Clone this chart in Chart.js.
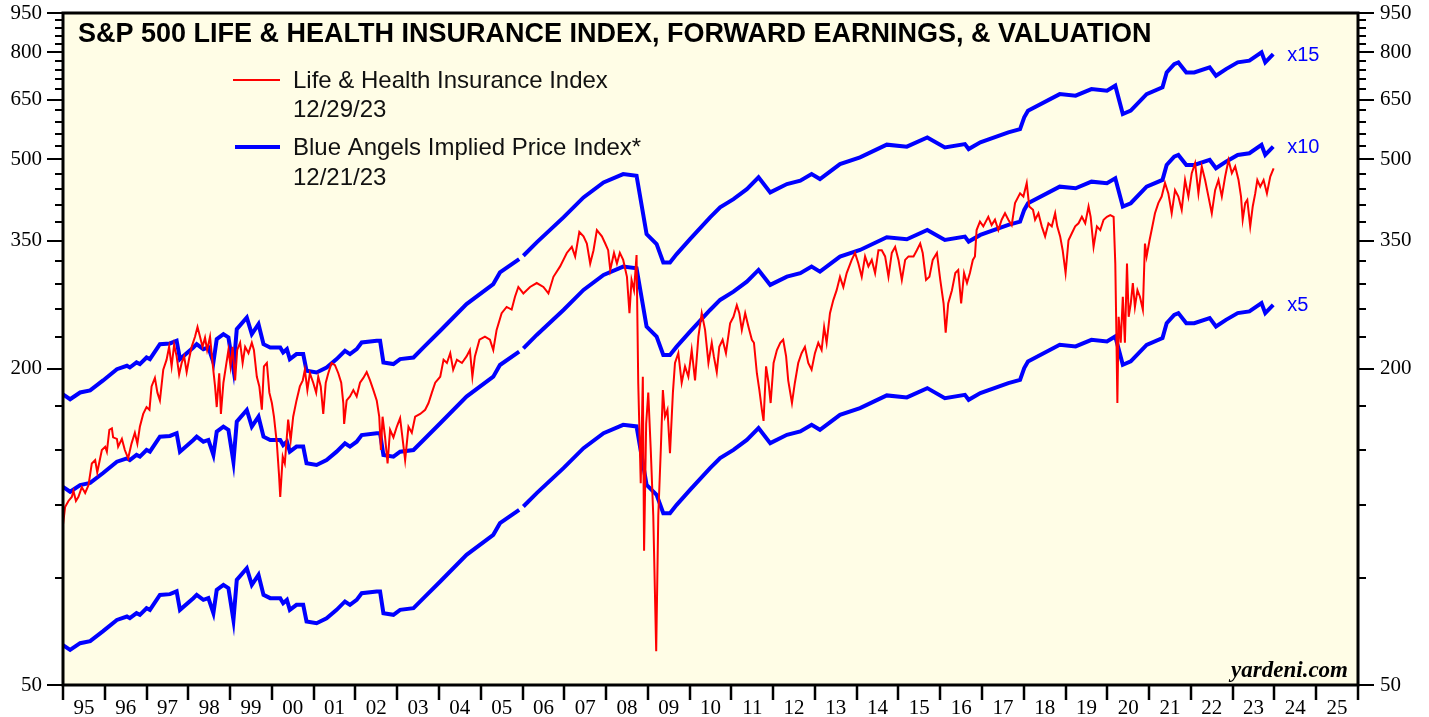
<!DOCTYPE html>
<html>
<head>
<meta charset="utf-8">
<title>S&amp;P 500 Life &amp; Health Insurance Index</title>
<script src="https://cdn.jsdelivr.net/npm/chart.js@4.4.1/dist/chart.umd.min.js"></script>
<style>
  html, body { margin: 0; padding: 0; background: #ffffff; }
  #wrap { width: 1429px; height: 717px; }
</style>
</head>
<body>
<div id="wrap"><canvas id="lifeHealthChart" width="1429" height="717"></canvas></div>
<script>
// Life & Health Insurance index (decimal years)
const lhDates = [
  1995.00,1995.05,1995.13,1995.21,1995.25,1995.31,1995.37,1995.45,1995.53,1995.61,
  1995.69,1995.77,1995.82,1995.93,1996.01,1996.05,1996.11,1996.17,1996.20,1996.29,
  1996.32,1996.41,1996.48,1996.56,1996.64,1996.72,1996.78,1996.84,1996.92,1997.00,
  1997.07,1997.12,1997.20,1997.26,1997.32,1997.40,1997.48,1997.54,1997.60,1997.66,
  1997.72,1997.78,1997.84,1997.90,1997.96,1998.02,1998.08,1998.16,1998.22,1998.28,
  1998.34,1998.40,1998.45,1998.52,1998.58,1998.64,1998.68,1998.74,1998.78,1998.84,
  1998.90,1998.96,1999.01,1999.06,1999.12,1999.17,1999.24,1999.30,1999.36,1999.44,
  1999.52,1999.57,1999.64,1999.70,1999.76,1999.81,1999.88,1999.94,2000.00,2000.05,
  2000.12,2000.17,2000.20,2000.26,2000.31,2000.39,2000.45,2000.51,2000.59,2000.67,
  2000.74,2000.79,2000.85,2000.91,2000.99,2001.06,2001.11,2001.17,2001.23,2001.29,
  2001.35,2001.43,2001.51,2001.59,2001.66,2001.71,2001.73,2001.79,2001.87,2001.95,
  2002.03,2002.11,2002.19,2002.27,2002.35,2002.43,2002.51,2002.57,2002.61,2002.65,
  2002.71,2002.77,2002.83,2002.91,2002.99,2003.07,2003.19,2003.27,2003.35,2003.43,
  2003.55,2003.67,2003.75,2003.83,2003.91,2004.03,2004.11,2004.19,2004.27,2004.34,
  2004.43,2004.55,2004.66,2004.74,2004.80,2004.86,2004.97,2005.10,2005.22,2005.30,
  2005.38,2005.50,2005.62,2005.74,2005.82,2005.90,2006.02,2006.18,2006.34,2006.50,
  2006.62,2006.74,2006.90,2007.06,2007.18,2007.26,2007.36,2007.46,2007.54,2007.62,
  2007.70,2007.78,2007.90,2007.98,2008.05,2008.10,2008.19,2008.26,2008.33,2008.41,
  2008.50,2008.56,2008.61,2008.67,2008.73,2008.77,2008.83,2008.88,2008.91,2008.96,
  2009.01,2009.07,2009.13,2009.20,2009.25,2009.31,2009.36,2009.41,2009.47,2009.53,
  2009.60,2009.65,2009.73,2009.81,2009.89,2009.97,2010.05,2010.13,2010.21,2010.29,
  2010.37,2010.45,2010.53,2010.58,2010.65,2010.71,2010.79,2010.87,2010.97,2011.05,
  2011.13,2011.19,2011.25,2011.33,2011.41,2011.49,2011.54,2011.61,2011.67,2011.73,
  2011.77,2011.83,2011.89,2011.94,2012.01,2012.09,2012.17,2012.24,2012.31,2012.36,
  2012.45,2012.52,2012.60,2012.68,2012.76,2012.84,2012.92,2013.00,2013.08,2013.16,
  2013.22,2013.28,2013.36,2013.44,2013.52,2013.60,2013.68,2013.76,2013.88,2013.96,
  2014.04,2014.12,2014.20,2014.28,2014.36,2014.44,2014.52,2014.60,2014.68,2014.76,
  2014.84,2014.92,2015.00,2015.08,2015.16,2015.24,2015.36,2015.44,2015.52,2015.58,
  2015.66,2015.74,2015.82,2015.92,2016.00,2016.08,2016.13,2016.19,2016.28,2016.36,
  2016.43,2016.50,2016.57,2016.64,2016.71,2016.78,2016.83,2016.87,2016.95,2017.03,
  2017.15,2017.23,2017.31,2017.39,2017.47,2017.55,2017.63,2017.71,2017.79,2017.91,
  2017.99,2018.07,2018.13,2018.22,2018.27,2018.35,2018.43,2018.51,2018.59,2018.67,
  2018.75,2018.80,2018.87,2018.93,2019.00,2019.07,2019.15,2019.23,2019.31,2019.39,
  2019.47,2019.55,2019.60,2019.67,2019.75,2019.83,2019.91,2019.99,2020.07,2020.15,
  2020.19,2020.21,2020.24,2020.27,2020.32,2020.37,2020.42,2020.47,2020.51,2020.56,
  2020.61,2020.66,2020.72,2020.78,2020.85,2020.90,2020.94,2021.01,2021.06,2021.14,
  2021.22,2021.30,2021.38,2021.46,2021.54,2021.62,2021.70,2021.78,2021.86,2021.94,
  2022.02,2022.10,2022.18,2022.26,2022.34,2022.42,2022.50,2022.58,2022.66,2022.74,
  2022.82,2022.90,2022.98,2023.06,2023.14,2023.20,2023.24,2023.30,2023.35,2023.42,
  2023.48,2023.54,2023.59,2023.66,2023.74,2023.82,2023.90,2023.98
];
const lhIndex = [
  101,109,112,114,117,112,114,119,116,120,
  132,134,127,140,142,139,153,154,148,147,
  142,147,140,135,144,151,144,155,164,169,
  167,185,192,180,174,199,208,220,202,222,
  211,195,205,211,197,209,220,230,240,230,
  220,229,217,230,205,185,169,196,164,188,
  202,217,202,220,190,217,224,205,220,214,
  224,217,193,185,167,202,205,180,172,162,
  144,126,114,136,132,160,146,162,174,185,
  190,199,182,196,188,180,193,185,164,188,
  196,205,203,196,188,172,157,174,177,182,
  177,188,192,197,190,182,174,162,140,162,
  148,132,153,148,155,161,134,155,151,162,
  164,167,172,180,188,193,208,205,214,199,
  208,205,211,217,193,211,227,230,227,217,
  237,255,262,259,274,286,278,286,291,286,
  278,299,313,332,341,327,364,357,346,317,
  336,367,357,346,336,308,332,317,332,322,
  299,255,295,282,329,188,121,193,90,157,
  180,140,105,58,105,140,182,162,167,138,
  180,205,214,188,202,193,217,190,230,255,
  237,205,224,211,197,220,227,214,244,251,
  264,255,237,255,240,227,224,196,182,167,
  159,202,188,172,205,217,224,227,211,190,
  172,188,205,214,220,205,199,214,224,217,
  240,224,255,270,282,299,286,304,322,332,
  317,299,327,313,322,304,336,336,327,299,
  332,341,322,295,322,327,327,336,346,332,
  295,299,322,332,295,266,234,266,282,304,
  308,266,304,291,304,322,327,367,381,373,
  389,375,384,367,384,395,384,375,413,431,
  425,451,407,401,384,395,373,357,378,373,
  395,373,357,336,304,351,362,373,378,389,
  378,407,389,341,373,367,384,389,392,389,
  317,251,172,251,224,274,224,317,251,266,
  291,262,282,274,259,346,327,351,367,395,
  413,425,451,431,395,437,425,401,457,425,
  471,492,431,485,457,425,395,437,457,425,
  464,499,471,485,457,425,384,413,419,373,
  407,431,457,444,457,431,464,481
];

// forward earnings behind the Blue Angels lines (null = gap in the series)
const epsDates = [
  1995.00,1995.17,1995.41,1995.65,1995.96,1996.29,1996.53,1996.60,1996.76,1996.84,
  1997.00,1997.08,1997.32,1997.56,1997.72,1997.80,1998.12,1998.20,1998.36,1998.48,
  1998.60,1998.68,1998.84,1998.96,1999.08,1999.16,1999.40,1999.52,1999.68,1999.80,
  1999.96,2000.20,2000.27,2000.36,2000.43,2000.59,2000.75,2000.83,2001.07,2001.31,
  2001.55,2001.75,2001.87,2002.03,2002.15,2002.51,2002.59,2002.67,2002.91,2003.07,
  2003.39,2003.63,2004.03,2004.66,2005.30,2005.46,2005.92,2005.97,2006.02,2006.34,
  2006.98,2007.46,2007.94,2008.41,2008.73,2008.97,2009.21,2009.37,2009.53,2009.69,
  2010.01,2010.49,2010.73,2011.05,2011.37,2011.65,2011.93,2012.33,2012.65,2012.92,
  2013.12,2013.60,2014.08,2014.72,2015.20,2015.69,2016.11,2016.59,2016.68,2016.96,
  2017.63,2017.91,2018.01,2018.10,2018.86,2019.24,2019.62,2019.99,2020.19,2020.37,
  2020.56,2020.94,2021.32,2021.42,2021.60,2021.70,2021.89,2022.08,2022.45,2022.60,
  2022.84,2023.12,2023.40,2023.69,2023.78,2023.97
];
const fwdEps = [
  11.91,11.66,12.01,12.12,12.66,13.30,13.50,13.40,13.70,13.60,
  14.00,13.90,14.84,14.89,15.07,13.90,14.63,14.84,14.52,14.63,
  13.70,15.17,15.51,15.29,13.30,15.85,16.68,15.51,16.20,14.84,
  14.63,14.63,14.31,14.52,13.90,14.21,14.21,13.21,13.11,13.40,
  13.90,14.42,14.21,14.52,14.95,15.07,15.07,13.70,13.60,13.90,
  14.00,14.63,15.74,17.69,19.31,20.32,21.55,null,21.86,23.18,
  25.86,28.23,30.15,31.27,31.05,24.04,23.01,21.23,21.23,22.02,
  23.52,25.86,27.02,28.02,29.27,30.82,28.86,29.93,30.38,31.27,
  30.59,32.67,33.64,35.57,35.26,36.72,35.14,35.66,34.89,35.93,
  37.54,38.08,40.09,41.28,44.39,44.08,45.37,45.06,46.06,40.67,
  41.28,44.39,45.72,48.82,50.63,51.01,48.82,48.82,49.90,48.12,
  49.53,51.01,51.39,53.29,51.01,52.90
];
const multiples = [15, 10, 5];

// axes
const firstYear = 1995;
const lastYear = 2026;
const yMin = 50;
const yMax = 950;
const yLabels = [50, 200, 350, 500, 650, 800, 950];
const minorStep = 30;

const serif = '"Liberation Serif", "Times New Roman", serif';
const sans = '"Liberation Sans", Arial, sans-serif';

const yearTicks = [];
for (let yr = firstYear; yr < lastYear; yr++) yearTicks.push(yr + 0.5);

const lhPoints = lhDates.map((d, i) => ({ x: d, y: lhIndex[i] }));
const blueSets = multiples.map(m => ({
  label: 'x' + m,
  data: epsDates.map((d, i) => ({ x: d, y: fwdEps[i] === null ? null : fwdEps[i] * m })),
  borderColor: '#0000ff',
  borderWidth: 4,
  pointRadius: 0,
  spanGaps: false,
  tension: 0
}));

const paperPlugin = {
  id: 'paper',
  beforeDraw(chart) {
    const { ctx, chartArea: area } = chart;
    ctx.save();
    ctx.fillStyle = '#ffffff';
    ctx.fillRect(0, 0, chart.width, chart.height);
    ctx.fillStyle = '#fffde6';
    ctx.fillRect(area.left, area.top, area.right - area.left, area.bottom - area.top);
    ctx.restore();
  },
  afterDraw(chart) {
    const { ctx, chartArea: area, scales } = chart;
    ctx.save();
    ctx.strokeStyle = '#000000';

    // value ticks, both sides
    ctx.lineWidth = 2;
    for (let v = yMin; v <= yMax; v += minorStep) {
      const py = Math.round(scales.y.getPixelForValue(v));
      const len = yLabels.includes(v) ? 16 : 8;
      ctx.beginPath();
      ctx.moveTo(area.left - len, py);
      ctx.lineTo(area.left, py);
      ctx.moveTo(area.right, py);
      ctx.lineTo(area.right + len, py);
      ctx.stroke();
    }

    // year ticks
    ctx.lineWidth = 2.5;
    for (let yr = firstYear; yr <= lastYear; yr++) {
      const px = Math.round(scales.x.getPixelForValue(yr));
      ctx.beginPath();
      ctx.moveTo(px, area.bottom);
      ctx.lineTo(px, area.bottom + 15);
      ctx.stroke();
    }

    // frame
    ctx.lineWidth = 3;
    ctx.strokeRect(area.left, area.top, area.right - area.left, area.bottom - area.top);

    // title
    ctx.fillStyle = '#000000';
    ctx.textAlign = 'left';
    ctx.textBaseline = 'alphabetic';
    ctx.font = 'bold 27px ' + sans;
    ctx.fillText('S&P 500 LIFE & HEALTH INSURANCE INDEX, FORWARD EARNINGS, & VALUATION', 78, 42);

    // legend
    ctx.lineCap = 'butt';
    ctx.strokeStyle = '#ff0000';
    ctx.lineWidth = 2;
    ctx.beginPath();
    ctx.moveTo(233, 80);
    ctx.lineTo(280, 80);
    ctx.stroke();
    ctx.strokeStyle = '#0000ff';
    ctx.lineWidth = 4;
    ctx.beginPath();
    ctx.moveTo(235, 147);
    ctx.lineTo(280, 147);
    ctx.stroke();

    ctx.fillStyle = '#111111';
    ctx.font = '24px ' + sans;
    ctx.fillText('Life & Health Insurance Index', 293, 88);
    ctx.fillText('12/29/23', 293, 117);
    ctx.fillText('Blue Angels Implied Price Index*', 293, 155);
    ctx.fillText('12/21/23', 293, 185);

    // multiple labels at the end of each blue line
    ctx.fillStyle = '#0000ff';
    ctx.font = '20px ' + sans;
    ctx.textBaseline = 'middle';
    const lastIdx = fwdEps.length - 1;
    multiples.forEach(m => {
      const px = scales.x.getPixelForValue(epsDates[lastIdx]);
      const py = scales.y.getPixelForValue(fwdEps[lastIdx] * m);
      ctx.fillText('x' + m, px + 14, py + 1);
    });

    // source
    ctx.fillStyle = '#000000';
    ctx.textAlign = 'right';
    ctx.textBaseline = 'alphabetic';
    ctx.font = 'italic bold 23px ' + serif;
    ctx.fillText('yardeni.com', 1348, 677);
    ctx.restore();
  }
};

const valueAxis = (position, width, padding) => ({
  type: 'logarithmic',
  position: position,
  min: yMin,
  max: yMax,
  afterBuildTicks: (axis) => { axis.ticks = yLabels.map(v => ({ value: v })); },
  afterFit: (axis) => {
    axis.width = width;
    axis.paddingTop = 0;
    axis.paddingBottom = 0;
  },
  grid: { display: false, drawTicks: false },
  border: { display: false },
  ticks: {
    autoSkip: false,
    padding: padding,
    color: '#000000',
    font: { family: serif, size: 21 },
    callback: (value) => String(value)
  }
});

const ctx = document.getElementById('lifeHealthChart').getContext('2d');
new Chart(ctx, {
  type: 'line',
  data: {
    datasets: [{
      label: 'Life & Health Insurance Index',
      data: lhPoints,
      borderColor: '#ff0000',
      borderWidth: 2,
      pointRadius: 0,
      tension: 0
    }].concat(blueSets)
  },
  options: {
    responsive: false,
    animation: false,
    devicePixelRatio: 1,
    events: [],
    parsing: false,
    normalized: true,
    layout: { padding: { top: 13, left: 0, right: 0, bottom: 0 } },
    plugins: {
      legend: { display: false },
      tooltip: { enabled: false },
      title: { display: false }
    },
    scales: {
      x: {
        type: 'linear',
        min: firstYear,
        max: lastYear,
        afterBuildTicks: (axis) => { axis.ticks = yearTicks.map(v => ({ value: v })); },
        afterFit: (axis) => {
          axis.height = 32;
          axis.paddingLeft = 0;
          axis.paddingRight = 0;
        },
        grid: { display: false, drawTicks: false },
        border: { display: false },
        ticks: {
          autoSkip: false,
          maxRotation: 0,
          padding: 11,
          color: '#000000',
          font: { family: serif, size: 21 },
          callback: (value) => String(Math.floor(value) % 100).padStart(2, '0')
        }
      },
      y: valueAxis('left', 63, 21),
      y2: valueAxis('right', 71, 22)
    }
  },
  plugins: [paperPlugin]
});
</script>
</body>
</html>
